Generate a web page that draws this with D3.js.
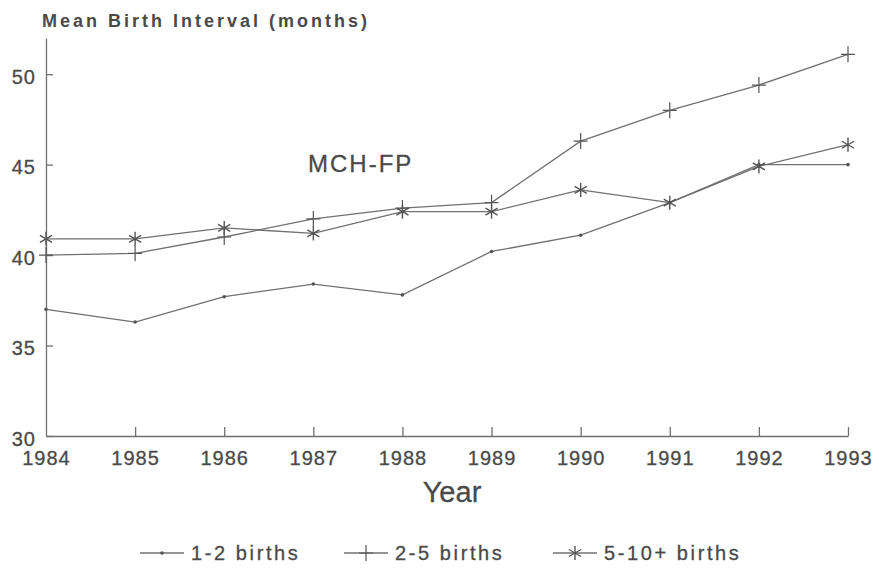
<!DOCTYPE html>
<html>
<head>
<meta charset="utf-8">
<script src="https://cdn.jsdelivr.net/npm/d3@7"></script>
<style>
	body { margin: 0; background: #fff; }
	text { font-family: "Liberation Sans", Arial, sans-serif; fill: #4a4a4a; }
</style>
</head>
<body>
<div id="chart"></div>
<script>
var years = [1984, 1985, 1986, 1987, 1988, 1989, 1990, 1991, 1992, 1993];
var births12 = [37.0, 36.3, 37.7, 38.4, 37.8, 40.2, 41.1, 42.9, 45.0, 45.0];
var births25 = [40.0, 40.1, 41.0, 42.0, 42.6, 42.9, 46.3, 48.0, 49.4, 51.1];
var births510 = [40.9, 40.9, 41.5, 41.2, 42.4, 42.4, 43.6, 42.9, 44.9, 46.1];
var yTicks = [30, 35, 40, 45, 50];
var seriesNames = ["1-2 births", "2-5 births", "5-10+ births"];
var markers = ["dot", "plus", "star"];

var ink = "#707070";
var width = 879, height = 569;

var svg = d3.select("#chart")
	.append("svg")
		.attr("width", width)
		.attr("height", height);

var x = d3.scaleLinear().domain([1984, 1993]).range([46, 848]);
var y = d3.scaleLinear().domain([30, 52]).range([436, 38]);

// y axis, ticks pointing inward
var yAxis = svg.append("g")
	.attr("transform", "translate(" + x(1984) + ",0)")
	.call(d3.axisLeft(y).tickValues(yTicks).tickSizeInner(-7).tickSizeOuter(0).tickPadding(10));

// x axis, ticks pointing up
var xAxis = svg.append("g")
	.attr("transform", "translate(0," + y(30) + ")")
	.call(d3.axisBottom(x).tickValues(years).tickFormat(d3.format("d")).tickSizeInner(-9).tickSizeOuter(0).tickPadding(18));

xAxis.selectAll(".tick").filter(function(d) { return d == 1984; }).select("line").remove();

svg.selectAll(".domain, .tick line")
	.attr("stroke", ink)
	.attr("stroke-width", 1.3);

svg.selectAll(".tick text")
	.style("font-size", "20px")
	.style("letter-spacing", "1px")
	.attr("stroke", "#4a4a4a")
	.attr("stroke-width", 0.3)
	.attr("fill", "#4a4a4a");

yAxis.selectAll(".tick text").attr("dy", "0.45em");
xAxis.selectAll(".tick text").attr("dy", "0.55em");

// titles
svg.append("text")
	.attr("x", 42)
	.attr("y", 27)
	.style("font-size", "18px")
	.style("font-weight", "bold")
	.style("letter-spacing", "3px")
	.text("Mean Birth Interval (months)");

svg.append("text")
	.attr("x", 452)
	.attr("y", 502)
	.attr("text-anchor", "middle")
	.attr("stroke", "#4a4a4a")
	.attr("stroke-width", 0.3)
	.style("font-size", "29px")
	.text("Year");

svg.append("text")
	.attr("x", 308)
	.attr("y", 172)
	.attr("stroke", "#4a4a4a")
	.attr("stroke-width", 0.3)
	.style("font-size", "24px")
	.style("letter-spacing", "2px")
	.text("MCH-FP");

function drawMarker(g, type, cx, cy) {
	if(type == "dot") {
		g.append("circle")
			.attr("cx", cx).attr("cy", cy).attr("r", 1.8)
			.attr("fill", "#555");
	} else if(type == "plus") {
		g.append("path")
			.attr("d", "M" + (cx - 7) + "," + cy + "H" + (cx + 7) + "M" + cx + "," + (cy - 8) + "V" + (cy + 8))
			.attr("stroke", "#555").attr("stroke-width", 1.2).attr("fill", "none");
	} else {
		var r = 7, p = "";
		for (var i = 0; i < 3; i++) {
			var a = Math.PI / 2 + i * Math.PI / 3;
			p += "M" + (cx + r * Math.cos(a)) + "," + (cy + r * Math.sin(a)) +
				"L" + (cx - r * Math.cos(a)) + "," + (cy - r * Math.sin(a));
		}
		g.append("path")
			.attr("d", p)
			.attr("stroke", "#555").attr("stroke-width", 1.4).attr("fill", "none");
	}
}

var line = d3.line()
	.x(function(d, i) { return x(years[i]); })
	.y(function(d) { return y(d); });

var allSeries = [births12, births25, births510];
allSeries.forEach(function(vals, s) {
	var g = svg.append("g");
	g.append("path")
		.attr("d", line(vals))
		.attr("fill", "none")
		.attr("stroke", ink)
		.attr("stroke-width", 1.3);
	vals.forEach(function(v, i) {
		drawMarker(g, markers[s], x(years[i]), y(v));
	});
});

// legend
var legendX = [140, 344, 553];
var legendY = 553;
seriesNames.forEach(function(name, s) {
	var g = svg.append("g");
	g.append("line")
		.attr("x1", legendX[s]).attr("x2", legendX[s] + 44)
		.attr("y1", legendY).attr("y2", legendY)
		.attr("stroke", ink).attr("stroke-width", 1.3);
	drawMarker(g, markers[s], legendX[s] + 22, legendY);
	g.append("text")
		.attr("x", legendX[s] + 51)
		.attr("y", legendY + 7)
		.attr("stroke", "#4a4a4a")
		.attr("stroke-width", 0.3)
		.style("font-size", "20px")
		.style("letter-spacing", "2.6px")
		.text(name);
});
</script>
</body>
</html>
